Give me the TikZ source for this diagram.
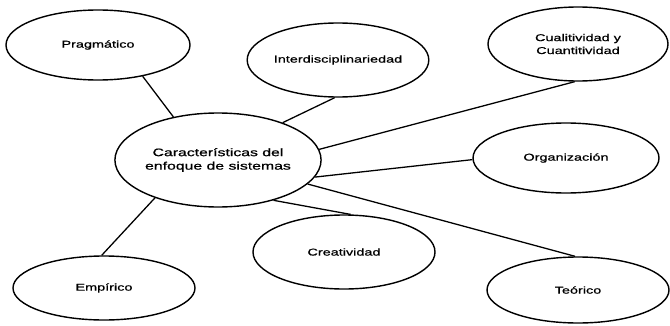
\documentclass[tikz,border=0pt]{standalone}
\usepackage{fontspec}
\setmainfont[FakeStretch=1.45,FakeBold=0.8]{Liberation Sans}
\usetikzlibrary{shapes.geometric}

\begin{document}
\begin{tikzpicture}[bubble/.style={ellipse, draw, line width=1.2pt, inner sep=0pt, align=center, font=\fontsize{8.5}{11}\selectfont},
      link/.style={line width=1.1pt}]
      \useasboundingbox (0,0) rectangle (20.1,9.75);
\node [bubble, minimum width=5.4cm, minimum height=2.82cm, font=\fontsize{9.3}{11.5}\selectfont] (centre) at (6.54, 4.95) {Características del\\enfoque de sistemas};
\node [bubble, minimum width=5.52cm, minimum height=2.1cm] (prag) at (2.94, 8.40) {Pragmático};
\node [bubble, minimum width=5.34cm, minimum height=2.22cm] (inter) at (10.14, 7.95) {Interdisciplinariedad};
\node [bubble, minimum width=5.4cm, minimum height=2.22cm] (cual) at (17.34, 8.43) {Cualitividad y\\Cuantitividad};
\node [bubble, minimum width=5.58cm, minimum height=2.1cm] (org) at (16.98, 5.01) {Organización};
\node [bubble, minimum width=5.46cm, minimum height=2.22cm] (creat) at (10.32, 2.19) {Creatividad};
\node [bubble, minimum width=5.46cm, minimum height=1.92cm] (emp) at (3.12, 1.11) {Empírico};
\node [bubble, minimum width=5.46cm, minimum height=1.98cm] (teor) at (17.34, 1.05) {Teórico};
      \draw[link] (prag.-35) -- (centre.136);
      \draw[link] (inter.-95) -- (centre.30);
      \draw[link] (cual.-95) -- (centre.6);
      \draw[link] (org.181) -- (centre.-10);
      \draw[link] (teor.95) -- (centre.-15);
      \draw[link] (creat.80) -- (centre.-36);
      \draw[link] (emp.94) -- (centre.-149);
    \end{tikzpicture}
\end{document}
